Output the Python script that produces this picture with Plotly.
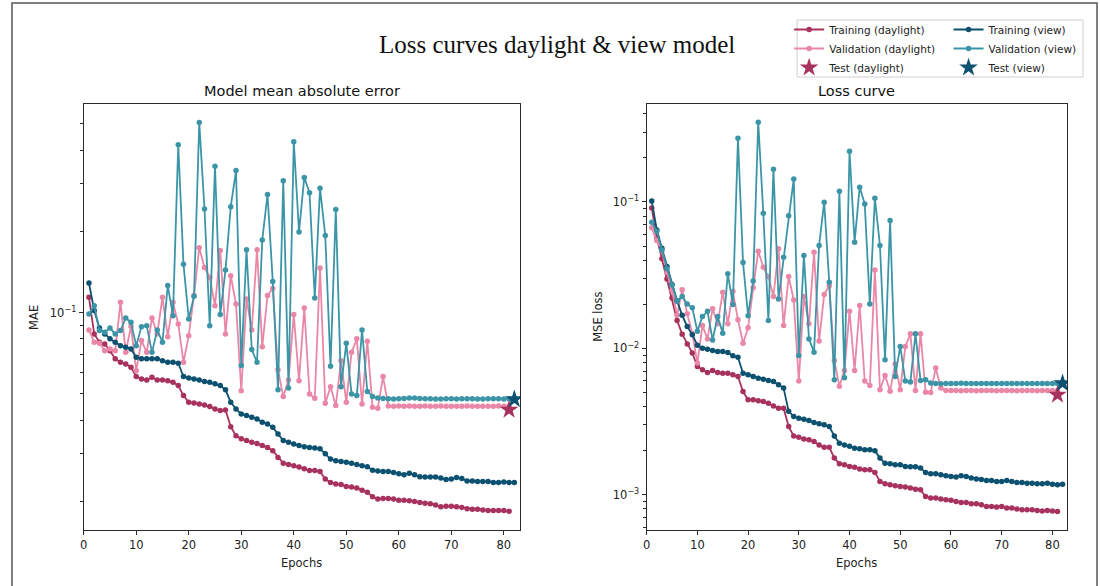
import plotly.graph_objects as go

# ---------------- data ----------------
epochs_daylight = list(range(1, 82))
epochs_view = list(range(1, 83))

mae_train_daylight = [
    0.114, 0.0834, 0.0777, 0.0766, 0.0723, 0.0675, 0.0655, 0.0646, 0.0628, 0.0580,
    0.0568, 0.0563, 0.0576, 0.0563, 0.0563, 0.0560, 0.0552, 0.0537, 0.0493, 0.0466,
    0.0463, 0.0459, 0.0455, 0.0449, 0.0440, 0.0434, 0.0436, 0.0378, 0.0350, 0.0341,
    0.0336, 0.0331, 0.0328, 0.0322, 0.0317, 0.0308, 0.0291, 0.0277, 0.0274, 0.0271,
    0.0268, 0.0264, 0.0260, 0.0260, 0.0258, 0.0242, 0.0235, 0.0232, 0.0231, 0.0227,
    0.0226, 0.0224, 0.0220, 0.0216, 0.0208, 0.0204, 0.0205, 0.0205, 0.0204, 0.0202,
    0.0202, 0.0201, 0.0200, 0.0198, 0.0197, 0.0196, 0.0194, 0.0191, 0.0192, 0.0192,
    0.0191, 0.0190, 0.0188, 0.0187, 0.0187, 0.0186, 0.0185, 0.0185, 0.0185, 0.0185, 0.0184]

mae_val_daylight = [
    0.0863, 0.0777, 0.0770, 0.0723, 0.0734, 0.0723, 0.1092, 0.0713, 0.0890, 0.0610,
    0.0788, 0.0713, 0.0956, 0.0834, 0.1140, 0.0815, 0.1092, 0.0908, 0.0655, 0.0822,
    0.1157, 0.174, 0.147, 0.135, 0.1061, 0.170, 0.0834, 0.137, 0.1076, 0.0514,
    0.1124, 0.0863, 0.171, 0.0748, 0.1157, 0.123, 0.0614, 0.0489, 0.0563, 0.0984,
    0.0560, 0.104, 0.0500, 0.0482, 0.1465, 0.0462, 0.0532, 0.0453, 0.0664, 0.0466,
    0.0713, 0.0800, 0.0459, 0.0783, 0.0446, 0.0443, 0.0580, 0.0451, 0.0450, 0.0451,
    0.0450, 0.0451, 0.0450, 0.0450, 0.0451, 0.0450, 0.0450, 0.0451, 0.0450, 0.0450,
    0.0450, 0.0450, 0.0451, 0.0450, 0.0450, 0.0450, 0.0450, 0.0450, 0.0451, 0.0450, 0.0450]

mae_train_view = [
    0.1288, 0.1019, 0.0877, 0.0834, 0.0800, 0.0777, 0.0755, 0.0745, 0.0734, 0.0684,
    0.0675, 0.0675, 0.0675, 0.0675, 0.0664, 0.0655, 0.0655, 0.0650, 0.0580, 0.0573,
    0.0568, 0.0563, 0.0556, 0.0552, 0.0545, 0.0537, 0.0518, 0.0466, 0.0440, 0.0421,
    0.0416, 0.0410, 0.0404, 0.0393, 0.0387, 0.0376, 0.0355, 0.0336, 0.0331, 0.0326,
    0.0322, 0.0319, 0.0317, 0.0315, 0.0313, 0.0300, 0.0287, 0.0283, 0.0281, 0.0279,
    0.0277, 0.0274, 0.0271, 0.0269, 0.0261, 0.0259, 0.0258, 0.0258, 0.0256, 0.0253,
    0.0251, 0.0254, 0.0251, 0.0247, 0.0246, 0.0246, 0.0246, 0.0244, 0.0241, 0.0242,
    0.0245, 0.0243, 0.0238, 0.0238, 0.0237, 0.0237, 0.0237, 0.0235, 0.0235, 0.0236,
    0.0235, 0.0235]

mae_val_view = [
    0.0989, 0.1061, 0.0859, 0.0846, 0.0877, 0.0834, 0.0859, 0.0956, 0.0921, 0.0755,
    0.0887, 0.0895, 0.0713, 0.0863, 0.0777, 0.126, 0.0975, 0.419, 0.151, 0.0948,
    0.115, 0.506, 0.242, 0.0895, 0.349, 0.0984, 0.144, 0.247, 0.336, 0.0637,
    0.171, 0.0730, 0.0655, 0.186, 0.274, 0.1306, 0.0518, 0.308, 0.0526, 0.430,
    0.199, 0.317, 0.278, 0.1133, 0.289, 0.193, 0.0633, 0.241, 0.0532, 0.0770,
    0.0500, 0.0493, 0.0863, 0.0511, 0.0489, 0.0483, 0.0481, 0.0480, 0.0479, 0.0480,
    0.0481, 0.0483, 0.0483, 0.0481, 0.0480, 0.0480, 0.0479, 0.0479, 0.0480, 0.0480,
    0.0479, 0.0480, 0.0480, 0.0480, 0.0479, 0.0479, 0.0480, 0.0480, 0.0480, 0.0479,
    0.0479, 0.0479]

mae_test_daylight = 0.0437
mae_test_view = 0.0478

mse_train_daylight = [
    0.0910, 0.0574, 0.0409, 0.0298, 0.0221, 0.0155, 0.0125, 0.0107, 0.0093, 0.00752,
    0.00713, 0.00684, 0.00706, 0.00684, 0.00676, 0.00676, 0.00659, 0.00642, 0.00507, 0.00445,
    0.00445, 0.00438, 0.00433, 0.00422, 0.00404, 0.00390, 0.00390, 0.00292, 0.00252, 0.00247,
    0.00240, 0.00237, 0.00231, 0.00219, 0.00211, 0.00211, 0.00178, 0.00163, 0.00160, 0.00156,
    0.00154, 0.00150, 0.00148, 0.00148, 0.00142, 0.00123, 0.00119, 0.00117, 0.00115, 0.00114,
    0.00113, 0.00111, 0.00109, 0.00108, 0.000973, 0.000948, 0.000948, 0.000934, 0.000924, 0.000915,
    0.000900, 0.000886, 0.000886, 0.000868, 0.000868, 0.000854, 0.000832, 0.000832, 0.000823, 0.000832,
    0.000811, 0.000811, 0.000798, 0.000789, 0.000789, 0.000789, 0.000781, 0.000773, 0.000781, 0.000773,
    0.000769]

mse_val_daylight = [
    0.0665, 0.0545, 0.0466, 0.0331, 0.0248, 0.0168, 0.0251, 0.0172, 0.0126, 0.00793,
    0.0143, 0.0116, 0.0186, 0.0147, 0.0242, 0.0147, 0.0245, 0.0157, 0.01084, 0.0138,
    0.0259, 0.0461, 0.0358, 0.0309, 0.0226, 0.0478, 0.0143, 0.0309, 0.0214, 0.00597,
    0.0226, 0.0147, 0.0453, 0.0112, 0.0233, 0.0268, 0.00826, 0.00550, 0.00706, 0.0179,
    0.00706, 0.0196, 0.00597, 0.00558, 0.0343, 0.00521, 0.00653, 0.00510, 0.00783, 0.00521,
    0.0103, 0.01256, 0.00516, 0.01256, 0.00502, 0.00500, 0.00733, 0.00535, 0.00515, 0.00515,
    0.00515, 0.00514, 0.00515, 0.00515, 0.00514, 0.00515, 0.00515, 0.00515, 0.00514, 0.00515,
    0.00515, 0.00515, 0.00514, 0.00515, 0.00515, 0.00515, 0.00514, 0.00515, 0.00515, 0.00515,
    0.00515]

mse_train_view = [
    0.1016, 0.0644, 0.0483, 0.0362, 0.0273, 0.0211, 0.0168, 0.0141, 0.0124, 0.0105,
    0.01002, 0.00987, 0.00966, 0.00951, 0.00951, 0.00936, 0.00889, 0.00870, 0.00676, 0.00659,
    0.00642, 0.00625, 0.00616, 0.00603, 0.00594, 0.00563, 0.00535, 0.00371, 0.00342, 0.00333,
    0.00328, 0.00321, 0.00311, 0.00305, 0.00301, 0.00292, 0.00252, 0.00225, 0.00219, 0.00214,
    0.00208, 0.00206, 0.00203, 0.00203, 0.00200, 0.00178, 0.00164, 0.00163, 0.00160, 0.00160,
    0.00156, 0.00155, 0.00155, 0.00152, 0.00142, 0.00139, 0.00139, 0.00137, 0.00135, 0.00133,
    0.00132, 0.00135, 0.00133, 0.00130, 0.00128, 0.00127, 0.00125, 0.00125, 0.00123, 0.00123,
    0.00125, 0.00123, 0.00121, 0.00121, 0.00120, 0.00120, 0.00119, 0.00119, 0.00120, 0.00118,
    0.00117, 0.00118]

mse_val_view = [
    0.0726, 0.0630, 0.0470, 0.0350, 0.0271, 0.0210, 0.0226, 0.0201, 0.0189, 0.0131,
    0.0165, 0.0179, 0.0114, 0.0165, 0.0127, 0.0323, 0.0199, 0.272, 0.0386, 0.0167,
    0.0288, 0.350, 0.0838, 0.0155, 0.167, 0.0217, 0.0419, 0.0806, 0.1436, 0.00894,
    0.0430, 0.0116, 0.00942, 0.0504, 0.0996, 0.0283, 0.00610, 0.1183, 0.00630, 0.222,
    0.0531, 0.1259, 0.0969, 0.0201, 0.1059, 0.0504, 0.00835, 0.0746, 0.00643, 0.0103,
    0.00597, 0.00588, 0.01256, 0.00604, 0.00610, 0.00579, 0.00575, 0.00573, 0.00574, 0.00575,
    0.00576, 0.00578, 0.00576, 0.00575, 0.00574, 0.00574, 0.00575, 0.00575, 0.00574, 0.00575,
    0.00575, 0.00574, 0.00575, 0.00575, 0.00574, 0.00575, 0.00575, 0.00575, 0.00574, 0.00575,
    0.00575, 0.00575]

mse_test_daylight = 0.00481
mse_test_view = 0.00578

x_ticks = [0, 10, 20, 30, 40, 50, 60, 70, 80]
mae_major_ticks = [0.1]
mae_major_labels = ["10<sup>\u22121</sup>"]
mae_minor_ticks = [0.02, 0.03, 0.04, 0.05, 0.06, 0.07, 0.08, 0.09, 0.2, 0.3, 0.4, 0.5]
mse_major_ticks = [0.001, 0.01, 0.1]
mse_major_labels = ["10<sup>\u22123</sup>", "10<sup>\u22122</sup>", "10<sup>\u22121</sup>"]
mse_minor_ticks = [0.0006, 0.0007, 0.0008, 0.0009,
                   0.002, 0.003, 0.004, 0.005, 0.006, 0.007, 0.008, 0.009,
                   0.02, 0.03, 0.04, 0.05, 0.06, 0.07, 0.08, 0.09,
                   0.2, 0.3, 0.4]

# ---------------- style ----------------
W, H = 1100, 586
C_TRAIN_DAY = "#a8325e"
C_VAL_DAY = "#ea86a6"
C_TRAIN_VIEW = "#0d5170"
C_VAL_VIEW = "#3b95a7"
FONT = "DejaVu Sans"
AX = "#2a2a2a"


def px(x):
    return x / W


def py(y):
    return 1 - y / H


fig = go.Figure()


def add_set(xax, yax, tr_day, va_day, te_day, tr_view, va_view, te_view, show):
    common = dict(xaxis=xax, yaxis=yax, mode="lines+markers", line=dict(width=1.8),
                  hoverinfo="skip")
    fig.add_trace(go.Scatter(x=epochs_daylight, y=tr_day, name="Training (daylight)",
                             marker=dict(size=5.5, color=C_TRAIN_DAY), line_color=C_TRAIN_DAY,
                             legend="legend", showlegend=show, **common))
    fig.add_trace(go.Scatter(x=epochs_daylight, y=va_day, name="Validation (daylight)",
                             marker=dict(size=5.5, color=C_VAL_DAY), line_color=C_VAL_DAY,
                             legend="legend", showlegend=show, **common))
    fig.add_trace(go.Scatter(x=epochs_view, y=tr_view, name="Training (view)",
                             marker=dict(size=5.5, color=C_TRAIN_VIEW), line_color=C_TRAIN_VIEW,
                             legend="legend2", showlegend=show, **common))
    fig.add_trace(go.Scatter(x=epochs_view, y=va_view, name="Validation (view)",
                             marker=dict(size=5.5, color=C_VAL_VIEW), line_color=C_VAL_VIEW,
                             legend="legend2", showlegend=show, **common))
    fig.add_trace(go.Scatter(x=[epochs_daylight[-1]], y=[te_day], name="Test (daylight)",
                             xaxis=xax, yaxis=yax, mode="markers", hoverinfo="skip",
                             marker=dict(symbol="star", size=14, color=C_TRAIN_DAY),
                             legend="legend", showlegend=show))
    fig.add_trace(go.Scatter(x=[epochs_view[-1]], y=[te_view], name="Test (view)",
                             xaxis=xax, yaxis=yax, mode="markers", hoverinfo="skip",
                             marker=dict(symbol="star", size=14, color=C_TRAIN_VIEW),
                             legend="legend2", showlegend=show))


add_set("x", "y", mae_train_daylight, mae_val_daylight, mae_test_daylight,
        mae_train_view, mae_val_view, mae_test_view, True)
add_set("x2", "y2", mse_train_daylight, mse_val_daylight, mse_test_daylight,
        mse_train_view, mse_val_view, mse_test_view, False)

ydom = [py(530), py(104)]
xcommon = dict(tickmode="array", tickvals=x_ticks, ticks="outside", ticklen=4, tickwidth=1,
               tickcolor=AX, showline=True, linecolor=AX, linewidth=1.2, mirror=True,
               showgrid=False, zeroline=False, tickfont=dict(family=FONT, size=11.5, color="#222"))
ycommon = dict(type="log", tickmode="array", ticks="outside", ticklen=4, tickwidth=1,
               tickcolor=AX, showline=True, linecolor=AX, linewidth=1.2, mirror=True,
               showgrid=False, zeroline=False, tickfont=dict(family=FONT, size=11.5, color="#222"))

fig.update_layout(
    width=W, height=H,
    margin=dict(l=0, r=0, t=0, b=0),
    paper_bgcolor="white", plot_bgcolor="white",
    xaxis=dict(domain=[px(80), px(518)], range=[0, 83.1], anchor="y", **xcommon),
    yaxis=dict(domain=ydom, range=[-1.805, -0.227], anchor="x",
               tickvals=mae_major_ticks, ticktext=mae_major_labels,
               minor=dict(tickmode="array", tickvals=mae_minor_ticks, ticks="outside",
                          ticklen=2.5, tickwidth=0.8, tickcolor=AX, showgrid=False),
               **ycommon),
    xaxis2=dict(domain=[px(645), px(1067)], range=[0, 82.9], anchor="y2", **xcommon),
    yaxis2=dict(domain=ydom, range=[-3.241, -0.331], anchor="x2",
                tickvals=mse_major_ticks, ticktext=mse_major_labels,
                minor=dict(tickmode="array", tickvals=mse_minor_ticks, ticks="outside",
                           ticklen=2.5, tickwidth=0.8, tickcolor=AX, showgrid=False),
                **ycommon),
    legend=dict(x=px(788), y=py(15), xanchor="left", yanchor="top",
                bgcolor="rgba(0,0,0,0)", borderwidth=0, itemwidth=30,
                font=dict(family=FONT, size=10.5, color="#222"), traceorder="normal"),
    legend2=dict(x=px(948), y=py(15), xanchor="left", yanchor="top",
                 bgcolor="rgba(0,0,0,0)", borderwidth=0, itemwidth=30,
                 font=dict(family=FONT, size=10.5, color="#222"), traceorder="normal"),
    showlegend=True,
)

shapes = [
    dict(type="rect", xref="paper", yref="paper", x0=px(796), x1=px(1083), y0=py(77), y1=py(20),
         line=dict(color="#cfcfcf", width=1), fillcolor="rgba(255,255,255,0.85)", layer="below"),
    dict(type="rect", xref="paper", yref="paper", x0=px(8), x1=px(1097), y0=-0.02, y1=py(3),
         line=dict(color="#555555", width=1.5), fillcolor="rgba(0,0,0,0)", layer="below"),
]
fig.update_layout(shapes=shapes)

ann = [
    dict(text="Loss curves daylight &amp; view model", x=px(555), y=py(44),
         font=dict(family="Liberation Serif", size=25, color="#111")),
    dict(text="Model mean absolute error", x=px(299), y=py(91),
         font=dict(family=FONT, size=14.5, color="#111")),
    dict(text="Loss curve", x=px(856), y=py(91),
         font=dict(family=FONT, size=14.5, color="#111")),
    dict(text="Epochs", x=px(299), y=py(563), font=dict(family=FONT, size=11.5, color="#222")),
    dict(text="Epochs", x=px(856), y=py(563), font=dict(family=FONT, size=11.5, color="#222")),
    dict(text="MAE", x=px(30), y=py(317), textangle=-90,
         font=dict(family=FONT, size=11.5, color="#222")),
    dict(text="MSE loss", x=px(596), y=py(317), textangle=-90,
         font=dict(family=FONT, size=11.5, color="#222")),
]
for a in ann:
    a.update(xref="paper", yref="paper", showarrow=False, xanchor="center", yanchor="middle")
fig.update_layout(annotations=ann)

fig.write_html("out.html")
